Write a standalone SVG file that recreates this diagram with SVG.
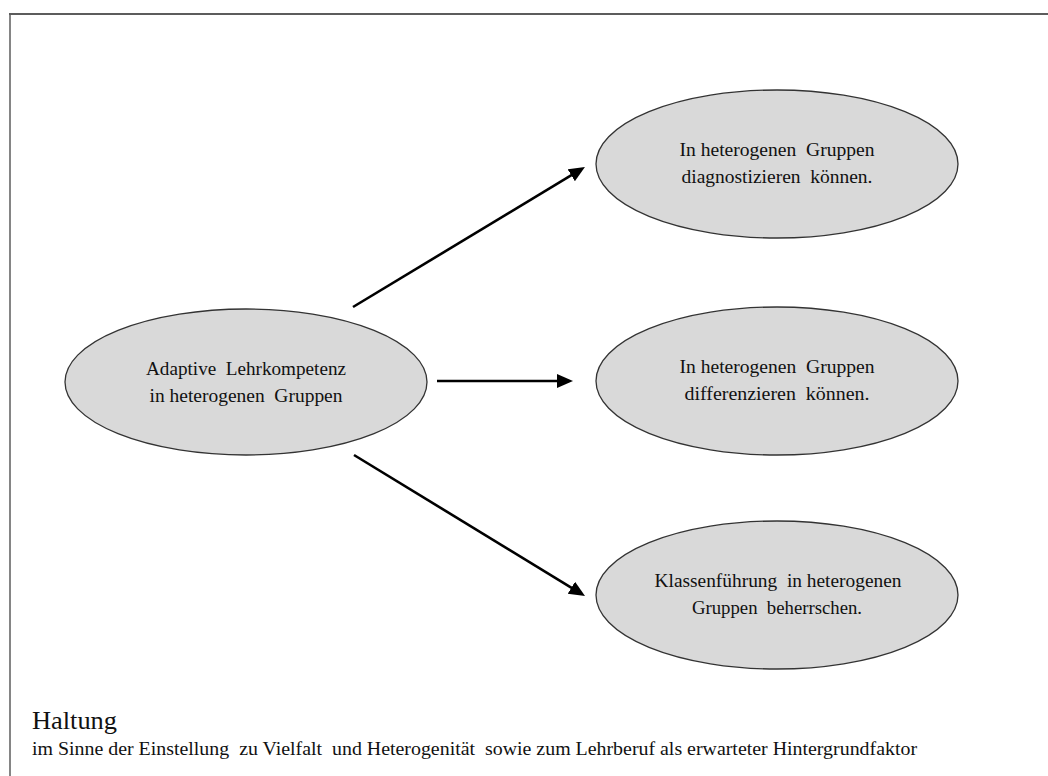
<svg xmlns="http://www.w3.org/2000/svg" width="1048" height="776" viewBox="0 0 1048 776">
  <defs>
    <style>
      .node { fill: #d9d9d9; stroke: #333333; stroke-width: 1.3; }
      .label { font-family: "Liberation Serif", "Times New Roman", serif; font-size: 19px; fill: #111111; text-anchor: middle; white-space: pre; }
      .edge { stroke: #000000; stroke-width: 2.6; fill: none; marker-end: url(#head); }
      .frame { stroke: #5c5c5c; fill: none; }
      .foot { font-family: "Liberation Serif", "Times New Roman", serif; fill: #111111; white-space: pre; }
    </style>
    <marker id="head" markerUnits="userSpaceOnUse" markerWidth="18" markerHeight="16" refX="6" refY="7" orient="auto">
      <path d="M0,0 L16,7 L0,14 z" fill="#000000"/>
    </marker>
  </defs>

  <rect width="1048" height="776" fill="#ffffff"/>

  <!-- outer frame, open at right and bottom -->
  <g id="frame">
    <line class="frame" x1="9" y1="14" x2="1048" y2="14" stroke-width="2.2"/>
    <line class="frame" x1="10" y1="13" x2="10" y2="776" stroke-width="1.5"/>
  </g>

  <g id="connectors">
    <line class="edge" x1="353" y1="307" x2="576.4" y2="172.2"/>
    <line class="edge" x1="437" y1="381" x2="563" y2="381"/>
    <line class="edge" x1="354" y1="455" x2="576.5" y2="590.8"/>
  </g>

  <g id="adaptive">
    <ellipse class="node" cx="246" cy="382" rx="181" ry="73"/>
    <text class="label" xml:space="preserve" x="246" y="375" textLength="200" lengthAdjust="spacingAndGlyphs">Adaptive  Lehrkompetenz</text>
    <text class="label" xml:space="preserve" x="246" y="402" textLength="193" lengthAdjust="spacingAndGlyphs">in heterogenen  Gruppen</text>
  </g>

  <g id="diagnostizieren">
    <ellipse class="node" cx="777" cy="164" rx="181" ry="74"/>
    <text class="label" xml:space="preserve" x="777" y="156" textLength="195" lengthAdjust="spacingAndGlyphs">In heterogenen  Gruppen</text>
    <text class="label" xml:space="preserve" x="777" y="183" textLength="191" lengthAdjust="spacingAndGlyphs">diagnostizieren  können.</text>
  </g>

  <g id="differenzieren">
    <ellipse class="node" cx="777" cy="381" rx="181" ry="74"/>
    <text class="label" xml:space="preserve" x="777" y="373" textLength="195" lengthAdjust="spacingAndGlyphs">In heterogenen  Gruppen</text>
    <text class="label" xml:space="preserve" x="777" y="400" textLength="185" lengthAdjust="spacingAndGlyphs">differenzieren  können.</text>
  </g>

  <g id="klassenfuehrung">
    <ellipse class="node" cx="777" cy="595" rx="181" ry="74"/>
    <text class="label" xml:space="preserve" x="778" y="587" textLength="247" lengthAdjust="spacingAndGlyphs">Klassenführung  in heterogenen</text>
    <text class="label" xml:space="preserve" x="777" y="614" textLength="170" lengthAdjust="spacingAndGlyphs">Gruppen  beherrschen.</text>
  </g>

  <g id="haltung">
    <text class="foot" x="32" y="729" font-size="25" textLength="85" lengthAdjust="spacingAndGlyphs">Haltung</text>
    <text class="foot" xml:space="preserve" x="32" y="755" font-size="19" textLength="885" lengthAdjust="spacingAndGlyphs">im Sinne der Einstellung  zu Vielfalt  und Heterogenität  sowie zum Lehrberuf als erwarteter Hintergrundfaktor</text>
  </g>
</svg>
